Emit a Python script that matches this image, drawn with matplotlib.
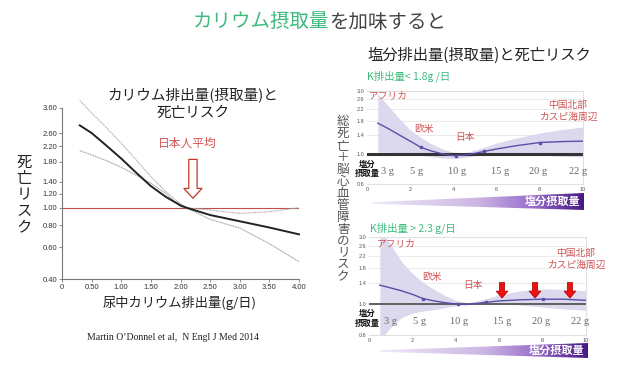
import numpy as np
import matplotlib
matplotlib.use("Agg")
import matplotlib.pyplot as plt
from matplotlib.colors import LinearSegmentedColormap
from matplotlib.patches import Polygon
from matplotlib.ticker import NullLocator

plt.rcParams["font.family"] = ["Noto Sans CJK JP", "DejaVu Sans"]

W, H = 621, 376

# --- left chart: potassium excretion vs death risk (O'Donnell 2014)
k_x = [0.3, 0.5, 0.75, 1.0, 1.25, 1.5, 1.75, 2.0, 2.1, 2.5, 3.0, 3.5, 4.0]
k_mid = [2.88, 2.61, 2.22, 1.88, 1.57, 1.32, 1.15, 1.03, 1.00, 0.91, 0.84, 0.775, 0.71]
k_hi = [3.97, 3.38, 2.80, 2.29, 1.85, 1.49, 1.23, 1.05, 1.00, 0.97, 0.93, 0.95, 1.00]
k_lo = [2.08, 1.97, 1.83, 1.68, 1.52, 1.37, 1.20, 1.01, 1.00, 0.86, 0.77, 0.63, 0.50]
k_yticks = [0.40, 0.60, 0.80, 1.00, 1.20, 1.40, 1.80, 2.20, 2.60, 3.60]
k_xticks = [0, 0.5, 1.0, 1.5, 2.0, 2.5, 3.0, 3.5, 4.0]
jp_avg = 2.21

# --- right charts: sodium excretion vs risk
na_x = [0.5, 1.0, 1.5, 2.0, 2.5, 3.0, 3.5, 4.0, 4.5, 5.0, 5.5, 6.0, 7.0, 8.0, 9.0, 10.0]
lowk_mid = [1.72, 1.56, 1.40, 1.26, 1.13, 1.06, 1.01, 0.98, 0.99, 1.02, 1.06, 1.10, 1.17, 1.23, 1.25, 1.26]
lowk_hi = [2.85, 2.30, 1.85, 1.53, 1.34, 1.20, 1.10, 1.04, 1.03, 1.08, 1.14, 1.22, 1.34, 1.45, 1.54, 1.61]
lowk_lo = [1.04, 1.04, 1.02, 1.00, 0.99, 0.96, 0.94, 0.93, 0.95, 0.98, 0.99, 1.00, 1.00, 0.99, 0.97, 0.96]
lowk_mk_x = [2.5, 4.1, 5.4, 8.0]
lowk_mk_y = [1.13, 0.98, 1.06, 1.23]

highk_mid = [1.36, 1.30, 1.24, 1.17, 1.09, 1.05, 1.02, 1.00, 0.99, 1.01, 1.03, 1.05, 1.07, 1.08, 1.08, 1.06]
highk_hi = [3.40, 2.65, 2.00, 1.65, 1.42, 1.27, 1.15, 1.06, 1.02, 1.05, 1.10, 1.16, 1.24, 1.28, 1.27, 1.24]
highk_lo = [0.55, 0.68, 0.80, 0.86, 0.89, 0.91, 0.94, 0.97, 0.99, 1.00, 1.00, 1.00, 0.98, 0.95, 0.92, 0.90]
highk_mk_x = [2.5, 4.1, 5.4, 8.0]
highk_mk_y = [1.09, 1.00, 1.03, 1.08]
highk_arrows = [6.13, 7.65, 9.26]

na_yticks = [0.6, 1.0, 1.4, 1.8, 2.2, 2.6, 3.0]
na_xticks = [0, 2, 4, 6, 8, 10]
salt_labels = ["3 g", "5 g", "10 g", "15 g", "20 g", "22 g"]
salt_x_top = [0.93, 2.31, 4.17, 6.16, 7.92, 9.77]
salt_x_bot = [0.97, 2.35, 4.15, 6.13, 7.93, 9.72]

RED = "#d05555"
GREEN = "#3dbb7e"
PURPLE = "#5a4ea6"
BAND = "#dcd8ee"


def px_rect(x0, y0, x1, y1):
    return [x0 / W, 1 - y1 / H, (x1 - x0) / W, (y1 - y0) / H]


fig = plt.figure(figsize=(W / 100, H / 100), dpi=100)
fig.set_facecolor("white")

# left chart
ax = fig.add_axes(px_rect(62, 108, 299, 279))
ax.set_yscale("log")
ax.set_xlim(0, 4)
ax.set_ylim(0.4, 3.6)
ax.axhline(1.0, color="#c0504d", lw=0.8, zorder=1)
ax.plot(k_x, k_hi, color="#aaaaaa", lw=0.8, ls=(0, (1, 0.6)), clip_on=False)
ax.plot(k_x, k_lo, color="#999999", lw=0.8, ls=(0, (1, 0.6)), clip_on=False)
ax.plot(k_x, k_mid, color="#222222", lw=1.4, clip_on=False)
ax.yaxis.set_minor_locator(NullLocator())
ax.set_yticks(k_yticks)
ax.set_yticklabels([f"{v:.2f}" for v in k_yticks])
ax.set_xticks(k_xticks)
ax.set_xticklabels(["0"] + [f"{v:.2f}" for v in k_xticks[1:]])
for s in ["top", "right"]:
    ax.spines[s].set_visible(False)
for s in ["left", "bottom"]:
    ax.spines[s].set_color("#777777")
    ax.spines[s].set_linewidth(0.8)
ax.tick_params(length=2, width=0.6, color="#777777", pad=1.5, labelsize=5.5,
               labelcolor="#333333")
for lab in ax.get_xticklabels() + ax.get_yticklabels():
    lab.set_family(["Liberation Sans", "DejaVu Sans"])
ax.annotate("", xy=(jp_avg, 1.13), xytext=(jp_avg, 1.86),
            arrowprops=dict(arrowstyle="simple,head_length=0.7,head_width=1.3,tail_width=0.6",
                            fc="white", ec="#c0392b", lw=0.9, mutation_scale=10,
                            shrinkA=0, shrinkB=0))
ax.text(jp_avg - 0.1, 2.3, "日本人平均", color=RED, fontsize=8.5, ha="center", va="center")


def salt_panel(rect, mid, hi, lo, mk_x, mk_y, base_lw, base_c):
    a = fig.add_axes(rect)
    a.set_yscale("log")
    a.set_xlim(0, 10)
    a.set_ylim(0.6, 3.0)
    a.fill_between(na_x, lo, hi, color=BAND, lw=0, zorder=1)
    a.axhline(1.0, color=base_c, lw=base_lw, zorder=2)
    a.plot(na_x, mid, color=PURPLE, lw=1.0, zorder=3)
    a.plot(mk_x, mk_y, "s", color=PURPLE, ms=1.8, zorder=4)
    a.yaxis.set_minor_locator(NullLocator())
    a.set_yticks(na_yticks)
    a.set_yticklabels([f"{v:.1f}" for v in na_yticks])
    a.set_xticks(na_xticks)
    a.grid(axis="y", color="#e8e8e8", lw=0.6, zorder=0)
    a.spines["left"].set_visible(False)
    for s in ["top", "right", "bottom"]:
        a.spines[s].set_color("#e0e0e0")
        a.spines[s].set_linewidth(0.8)
    a.tick_params(length=0, pad=2, labelsize=4, labelcolor="#555555")
    for lab in a.get_xticklabels() + a.get_yticklabels():
        lab.set_family(["Liberation Sans", "DejaVu Sans"])
    a.set_axisbelow(True)
    return a


ax2 = salt_panel(px_rect(367, 91, 583, 184), lowk_mid, lowk_hi, lowk_lo,
                 lowk_mk_x, lowk_mk_y, 2.2, "#333333")
ax3 = salt_panel(px_rect(369, 237, 586, 335), highk_mid, highk_hi, highk_lo,
                 highk_mk_x, highk_mk_y, 1.3, "#555555")

for a, xs, yf in [(ax2, salt_x_top, 0.13), (ax3, salt_x_bot, 0.133)]:
    tr = a.get_xaxis_transform()
    for xv, lab in zip(xs, salt_labels):
        a.text(xv, yf, lab, transform=tr, ha="center", va="center", fontsize=7.5,
               color="#666666", family=["Liberation Serif", "DejaVu Serif"])

for xv in highk_arrows:
    ax3.annotate("", xy=(xv, 1.10), xytext=(xv, 1.42),
                 arrowprops=dict(arrowstyle="simple,head_length=0.5,head_width=0.85,tail_width=0.38",
                                 fc="#ee1111", ec="#aa0000", lw=0.5, mutation_scale=10,
                                 shrinkA=0, shrinkB=0))

# overlay in pixel coordinates for the slide texts
ov = fig.add_axes([0, 0, 1, 1], zorder=5)
ov.set_xlim(0, W)
ov.set_ylim(H, 0)
ov.axis("off")
ov.patch.set_alpha(0)

ov.text(329, 22, "カリウム摂取量", color=GREEN, fontsize=14, ha="right", va="center")
ov.text(329, 22, "を加味すると", color="#444444", fontsize=14, ha="left", va="center")

ov.text(193, 95, "カリウム排出量(摂取量)と", fontsize=10.5, color="#222222", ha="center", va="center")
ov.text(193, 113, "死亡リスク", fontsize=10.5, color="#222222", ha="center", va="center")
for i, ch in enumerate("死亡リスク"):
    ov.text(24, 162 + i * 16.5, ch, fontsize=11, color="#222222", ha="center", va="center")
ov.text(180, 303, "尿中カリウム排出量(g/日)", fontsize=9.5, color="#222222", ha="center", va="center")
ov.text(173, 337, "Martin O\u2019Donnel et al,  N Engl J Med 2014", fontsize=7, color="#222222",
        ha="center", va="center", family=["Liberation Serif", "DejaVu Serif"])

ov.text(479, 55, "塩分排出量(摂取量)と死亡リスク", fontsize=11, color="#222222", ha="center", va="center")
for i, ch in enumerate("総死亡＋脳心血管障害のリスク"):
    ov.text(343, 122 + i * 11.9, ch, fontsize=9, color="#555555", ha="center", va="center")

ov.text(367, 76, "K排出量< 1.8g /日", fontsize=7.5, color=GREEN, ha="left", va="center")
ov.text(370, 228, "K排出量 > 2.3 g/日", fontsize=7.5, color=GREEN, ha="left", va="center")

for yy0 in [(164, 173), (313, 323)]:
    ov.text(367, yy0[0], "塩分", fontsize=6, fontweight="bold", color="#111111", ha="center", va="center")
    ov.text(367, yy0[1], "摂取量", fontsize=6, fontweight="bold", color="#111111", ha="center", va="center")

region_txt = [
    ("アフリカ", 388, 95), ("欧米", 424, 129), ("日本", 465, 137),
    ("中国北部", 568, 105), ("カスピ海周辺", 569, 117),
    ("アフリカ", 396, 243), ("欧米", 432, 277), ("日本", 473, 285),
    ("中国北部", 576, 253), ("カスピ海周辺", 577, 265),
]
for s, x, y in region_txt:
    ov.text(x, y, s, fontsize=7, color=RED, ha="center", va="center")

# purple gradient wedges "塩分摂取量"
cmap = LinearSegmentedColormap.from_list(
    "salt", [(0, "#efeaf7"), (0.5, "#cbb6e4"), (0.75, "#9c70cc"), (1, "#461884")])
grad = np.linspace(0, 1, 256).reshape(1, -1)
for (xl, yl, xr, yt, yb, tx) in [(372, 203, 584, 193, 210, 553), (380, 351, 588, 343, 358, 557)]:
    poly = Polygon([(xl, yl - 0.8), (xr, yt), (xr, yb), (xl, yl + 0.8)], closed=True,
                   transform=ov.transData, fc="none", ec="none")
    ov.add_patch(poly)
    im = ov.imshow(grad, cmap=cmap, extent=(xl, xr, yb, yt), aspect="auto", zorder=1)
    im.set_clip_path(poly)
    ov.text(tx, (yt + yb) / 2, "塩分摂取量", fontsize=8, fontweight="bold", color="white",
            ha="center", va="center", zorder=2)

ov.set_xlim(0, W)
ov.set_ylim(H, 0)

fig.savefig("out.png", dpi=100)
